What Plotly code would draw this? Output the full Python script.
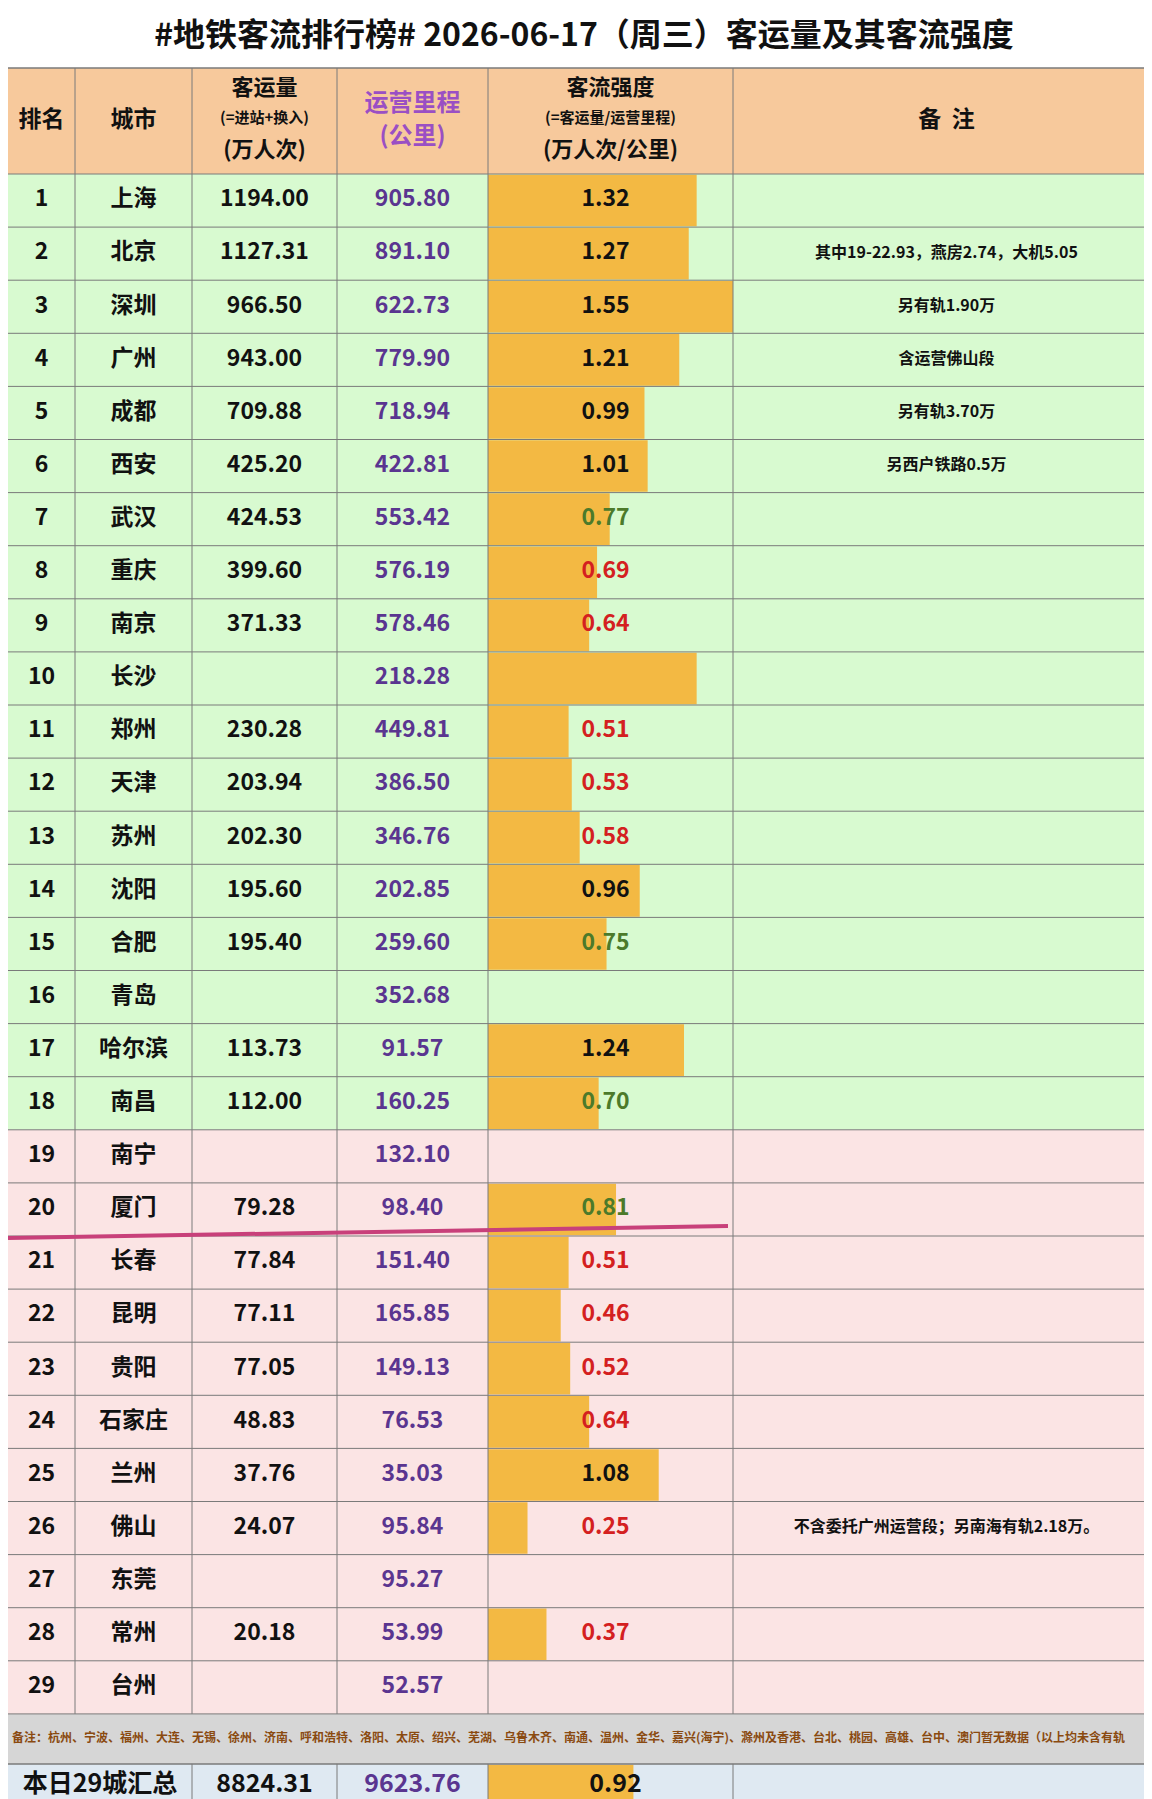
import plotly.graph_objects as go

W, H = 1152, 1799
FONT = "Noto Sans CJK SC"

ranks = list(range(1, 30))
cities = ["上海", "北京", "深圳", "广州", "成都", "西安", "武汉", "重庆", "南京", "长沙",
          "郑州", "天津", "苏州", "沈阳", "合肥", "青岛", "哈尔滨", "南昌", "南宁", "厦门",
          "长春", "昆明", "贵阳", "石家庄", "兰州", "佛山", "东莞", "常州", "台州"]
volume = ["1194.00", "1127.31", "966.50", "943.00", "709.88", "425.20", "424.53", "399.60",
          "371.33", "", "230.28", "203.94", "202.30", "195.60", "195.40", "", "113.73",
          "112.00", "", "79.28", "77.84", "77.11", "77.05", "48.83", "37.76", "24.07", "",
          "20.18", ""]
mileage = ["905.80", "891.10", "622.73", "779.90", "718.94", "422.81", "553.42", "576.19",
           "578.46", "218.28", "449.81", "386.50", "346.76", "202.85", "259.60", "352.68",
           "91.57", "160.25", "132.10", "98.40", "151.40", "165.85", "149.13", "76.53",
           "35.03", "95.84", "95.27", "53.99", "52.57"]
intensity = [1.32, 1.27, 1.55, 1.21, 0.99, 1.01, 0.77, 0.69, 0.64, 1.32,
             0.51, 0.53, 0.58, 0.96, 0.75, None, 1.24, 0.70, None, 0.81,
             0.51, 0.46, 0.52, 0.64, 1.08, 0.25, None, 0.37, None]
show_label = [True] * 29
show_label[9] = False  # 长沙 label missing in source
notes = {2: "其中19-22.93，燕房2.74，大机5.05", 3: "另有轨1.90万", 4: "含运营佛山段",
         5: "另有轨3.70万", 6: "另西户铁路0.5万",
         26: "不含委托广州运营段；另南海有轨2.18万。"}
total_label = "本日29城汇总"
total_volume = "8824.31"
total_mileage = "9623.76"
total_intensity = 0.92
footnote = ("备注：杭州、宁波、福州、大连、无锡、徐州、济南、呼和浩特、洛阳、太原、绍兴、芜湖、乌鲁木齐、南通、温州、"
            "金华、嘉兴(海宁)、滁州及香港、台北、桃园、高雄、台中、澳门暂无数据（以上均未含有轨")

cols = [0, 67, 184, 329, 480, 725, 1152]
TITLE_H, HEAD_B = 60, 166
ROW_H = 53.1
rows_end = HEAD_B + 29 * ROW_H
NOTE_B = rows_end + 50
MAX_INT = 1.55  # full column width

def row_c(i):
    return HEAD_B + (i + 0.5) * ROW_H

def cx(c):
    return (cols[c] + cols[c + 1]) / 2

shapes = []
def rect(x0, y0, x1, y1, fill):
    shapes.append(dict(type="rect", xref="x", yref="y", x0=x0, x1=x1, y0=y0, y1=y1,
                       fillcolor=fill, line=dict(width=0), layer="below"))

rect(0, TITLE_H, W, HEAD_B, "#f7c99c")
rect(0, HEAD_B, W, HEAD_B + 18 * ROW_H, "#d8fad0")
rect(0, HEAD_B + 18 * ROW_H, W, rows_end, "#fbe4e4")
rect(0, rows_end, W, NOTE_B, "#d6d6d6")
rect(0, NOTE_B, W, H, "#dfe9f2")
for k in range(30):
    y = HEAD_B + k * ROW_H
    shapes.append(dict(type="line", xref="x", yref="y", x0=0, x1=W, y0=y, y1=y,
                       line=dict(color="#7a7a7a", width=1)))
for y in [TITLE_H, NOTE_B]:
    shapes.append(dict(type="line", xref="x", yref="y", x0=0, x1=W, y0=y, y1=y,
                       line=dict(color="#7a7a7a", width=1.5)))
for x in cols[1:-1]:
    shapes.append(dict(type="line", xref="x", yref="y", x0=x, x1=x, y0=TITLE_H, y1=rows_end,
                       line=dict(color="#7a7a7a", width=1)))
    if x != 67:
        shapes.append(dict(type="line", xref="x", yref="y", x0=x, x1=x, y0=NOTE_B, y1=H,
                           line=dict(color="#7a7a7a", width=1)))
shapes.append(dict(type="line", xref="x", yref="y", x0=0, x1=720, y0=1230, y1=1218,
                   line=dict(color="#c8407a", width=4)))

fig = go.Figure()

# bars inside the intensity column, scaled so MAX_INT fills it
scale = (cols[5] - cols[4]) / MAX_INT
bar_vals = [v if v is not None else 0 for v in intensity] + [total_intensity]
bar_y = [row_c(i) for i in range(29)] + [(NOTE_B + H) / 2]
fig.add_trace(go.Bar(x=[v * scale for v in bar_vals], y=bar_y, base=cols[4], orientation="h",
                     width=[ROW_H - 1.5] * 29 + [H - NOTE_B - 1.5],
                     marker=dict(color="#f3b943", line=dict(width=0)), hoverinfo="skip"))

def txt(xs, ys, texts, size, color, bold=True, pos="middle center"):
    t = ["<b>%s</b>" % s if bold and s else s for s in texts]
    fig.add_trace(go.Scatter(x=xs, y=ys, mode="text", text=t, textposition=pos,
                             textfont=dict(family=FONT, size=size, color=color),
                             hoverinfo="skip", cliponaxis=False))

ys = [row_c(i) for i in range(29)]
txt([cx(0)] * 29, ys, [str(r) for r in ranks], 23, "#111")
txt([cx(1)] * 29, ys, cities, 23, "#111")
txt([cx(2)] * 29, ys, volume, 23, "#111")
txt([cx(3)] * 29, ys, mileage, 23, "#5a3590")

def icol(v):
    if v >= 0.9:
        return "#111"
    if v >= 0.7:
        return "#4c7a2a"
    return "#d42020"

lab_y, lab_t, lab_c = [], [], []
for i, v in enumerate(intensity):
    if v is not None and show_label[i]:
        lab_y.append(ys[i]); lab_t.append("<b>%.2f</b>" % v); lab_c.append(icol(v))
fig.add_trace(go.Scatter(x=[cx(4) - 5] * len(lab_y), y=lab_y, mode="text", text=lab_t,
                         textfont=dict(family=FONT, size=23, color=lab_c), hoverinfo="skip"))

txt([cx(5)] * len(notes), [row_c(k - 1) for k in notes], list(notes.values()), 16, "#111")

# header
txt([W / 2], [TITLE_H / 2], ["#地铁客流排行榜# 2026-06-17（周三）客运量及其客流强度"], 32, "#111")
hy = (TITLE_H + HEAD_B) / 2
txt([cx(0), cx(1), cx(5)], [hy] * 3, ["排名", "城市", "备  注"], 23, "#111")
txt([cx(2), cx(2), cx(2)], [hy - 32, hy - 2, hy + 30], ["客运量", "(=进站+换入)", "(万人次)"],
    [22, 15, 22], "#111")
txt([cx(3), cx(3)], [hy - 16, hy + 17], ["运营里程", "(公里)"], 24, "#9a4fc4")
txt([cx(4), cx(4), cx(4)], [hy - 32, hy - 2, hy + 30],
    ["客流强度", "(=客运量/运营里程)", "(万人次/公里)"], [22, 15, 22], "#111")

# footnote and total
txt([4], [(rows_end + NOTE_B) / 2], [footnote], 12, "#8a4a10", pos="middle right")
ty = (NOTE_B + H) / 2
txt([cols[2] / 2, cx(2), cx(3), cx(4) + 5], [ty] * 4,
    [total_label, total_volume, total_mileage, "%.2f" % total_intensity], 25,
    ["#111", "#111", "#5a3590", "#111"])

fig.update_layout(
    width=W, height=H, margin=dict(l=0, r=0, t=0, b=0),
    paper_bgcolor="white", plot_bgcolor="white", showlegend=False,
    shapes=shapes,
    xaxis=dict(range=[0, W], visible=False, fixedrange=True),
    yaxis=dict(range=[H, 0], visible=False),
)

fig.write_html("out.html")
